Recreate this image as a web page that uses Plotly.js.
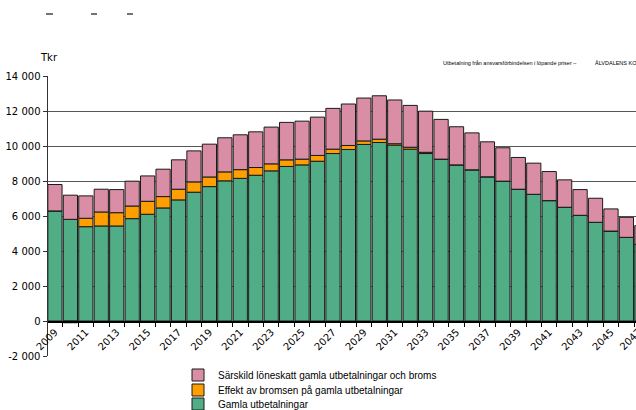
<!DOCTYPE html>
<html>
<head>
<meta charset="utf-8">
<script src="https://cdn.plot.ly/plotly-3.0.1.min.js"></script>
<style>html,body{margin:0;padding:0;background:#fff;}#chart{width:636px;height:410px;}</style>
</head>
<body>
<div id="chart"></div>
<script>
const years = [2009,2010,2011,2012,2013,2014,2015,2016,2017,2018,2019,2020,2021,2022,2023,2024,2025,2026,2027,2028,2029,2030,2031,2032,2033,2034,2035,2036,2037,2038,2039,2040,2041,2042,2043,2044,2045,2046,2047];
const gamlaUtbetalningar = [6290,5810,5390,5430,5430,5850,6100,6460,6920,7360,7680,8010,8150,8330,8580,8830,8920,9130,9570,9800,10090,10200,10050,9820,9570,9250,8920,8640,8240,7990,7530,7240,6880,6500,6040,5640,5140,4780,4380];
const effektBromsen = [0,-100,480,800,760,720,740,650,610,590,550,510,500,440,400,380,330,330,250,230,200,190,80,110,70,0,0,0,0,0,0,0,0,0,0,0,0,0,0];
const sarskildLoneskatt = [1510,1380,1280,1300,1320,1420,1450,1565,1680,1770,1875,1950,1990,2040,2100,2140,2170,2190,2330,2370,2450,2480,2500,2390,2350,2270,2180,2110,2000,1910,1815,1780,1660,1565,1470,1375,1265,1145,1070];
const xTickYears = [2009,2011,2013,2015,2017,2019,2021,2023,2025,2027,2029,2031,2033,2035,2037,2039,2041,2043,2045];
const lastYearLabel = '2047';
const yTickVals = [-2000,0,2000,4000,6000,8000,10000,12000,14000];
const yTickText = ['-2 000','0','2 000','4 000','6 000','8 000','10 000','12 000','14 000'];
const seriesNames = ['Gamla utbetalningar','Effekt av bromsen på gamla utbetalningar','Särskild löneskatt gamla utbetalningar och broms'];

const line = {color:'#1a1a1a', width:1};
const traces = [
  {type:'bar', x:years, y:gamlaUtbetalningar, name:seriesNames[0], legend:'legend3', marker:{color:'#50ad85', line:line}},
  {type:'bar', x:years, y:effektBromsen, name:seriesNames[1], legend:'legend2', marker:{color:'#ff9e00', line:line}},
  {type:'bar', x:years, y:sarskildLoneskatt, name:seriesNames[2], legend:'legend', marker:{color:'#d98ea5', line:line}}
];

const W = 588, H = 280; // plot area in px
function px(x){return (x-48)/W;}
function py(y){return 1+(76-y)/H;}
const dash = {color:'#444', width:1.5};
function leg(yc){
  return {x:px(178), y:py(yc), xanchor:'left', yanchor:'middle',
          font:{family:'Liberation Sans', size:10, color:'#000'}, bgcolor:'rgba(0,0,0,0)', itemwidth:30};
}
const layout = {
  width:636, height:410,
  margin:{l:48, r:0, t:76, b:54, pad:0, autoexpand:false},
  paper_bgcolor:'#fff', plot_bgcolor:'#fff',
  barmode:'relative', bargap:0.08,
  showlegend:true,
  font:{family:'DejaVu Sans', size:10, color:'#000'},
  legend:leg(375), legend2:leg(390), legend3:leg(404),
  xaxis:{type:'linear', range:[2008.55, 2046.62], anchor:'free', position:0.125,
         tickmode:'array', tickvals:xTickYears, ticktext:xTickYears.map(String), tickangle:-45,
         ticks:'', showgrid:false, zeroline:false, showline:true, linecolor:'#000', linewidth:1.5,
         tickfont:{family:'DejaVu Sans', size:10, color:'#000'},
         minor:{tick0:2008.5, dtick:1, ticks:'outside', ticklen:4, tickcolor:'#000', tickwidth:1, showgrid:false}},
  yaxis:{range:[-2000,14000], tickmode:'array', tickvals:yTickVals, ticktext:yTickText,
         ticks:'outside', ticklen:4, tickcolor:'#333', showline:true, linecolor:'#333', linewidth:1.5,
         showgrid:true, gridcolor:'#555', gridwidth:1, zeroline:false,
         tickfont:{family:'DejaVu Sans', size:10, color:'#000'}},
  annotations:[
    {xref:'paper', yref:'paper', x:px(38), y:py(57), xanchor:'left', yanchor:'middle', text:'Tkr', showarrow:false, font:{family:'DejaVu Sans', size:10, color:'#000'}},
    {xref:'paper', yref:'paper', x:px(441), y:py(63), xanchor:'left', yanchor:'middle', text:'Utbetalning från ansvarsförbindelsen i löpande priser –', showarrow:false, font:{family:'Liberation Sans', size:5.5, color:'#000'}},
    {xref:'paper', yref:'paper', x:px(593), y:py(63), xanchor:'left', yanchor:'middle', text:'ÅLVDALENS KOMMUN', showarrow:false, font:{family:'Liberation Sans', size:5.5, color:'#000'}},
    {xref:'paper', yref:'paper', x:px(646), y:py(324), xanchor:'right', yanchor:'top', text:lastYearLabel, textangle:-45, showarrow:false, font:{family:'DejaVu Sans', size:10, color:'#000'}}
  ],
  shapes:[
    {type:'line', xref:'paper', yref:'paper', x0:px(46), x1:px(53), y0:py(14), y1:py(14), line:dash},
    {type:'line', xref:'paper', yref:'paper', x0:px(91), x1:px(97), y0:py(14), y1:py(14), line:dash},
    {type:'line', xref:'paper', yref:'paper', x0:px(127), x1:px(133), y0:py(14), y1:py(14), line:dash}
  ]
};
Plotly.newPlot('chart', traces, layout, {displayModeBar:false, staticPlot:true});
</script>
</body>
</html>
